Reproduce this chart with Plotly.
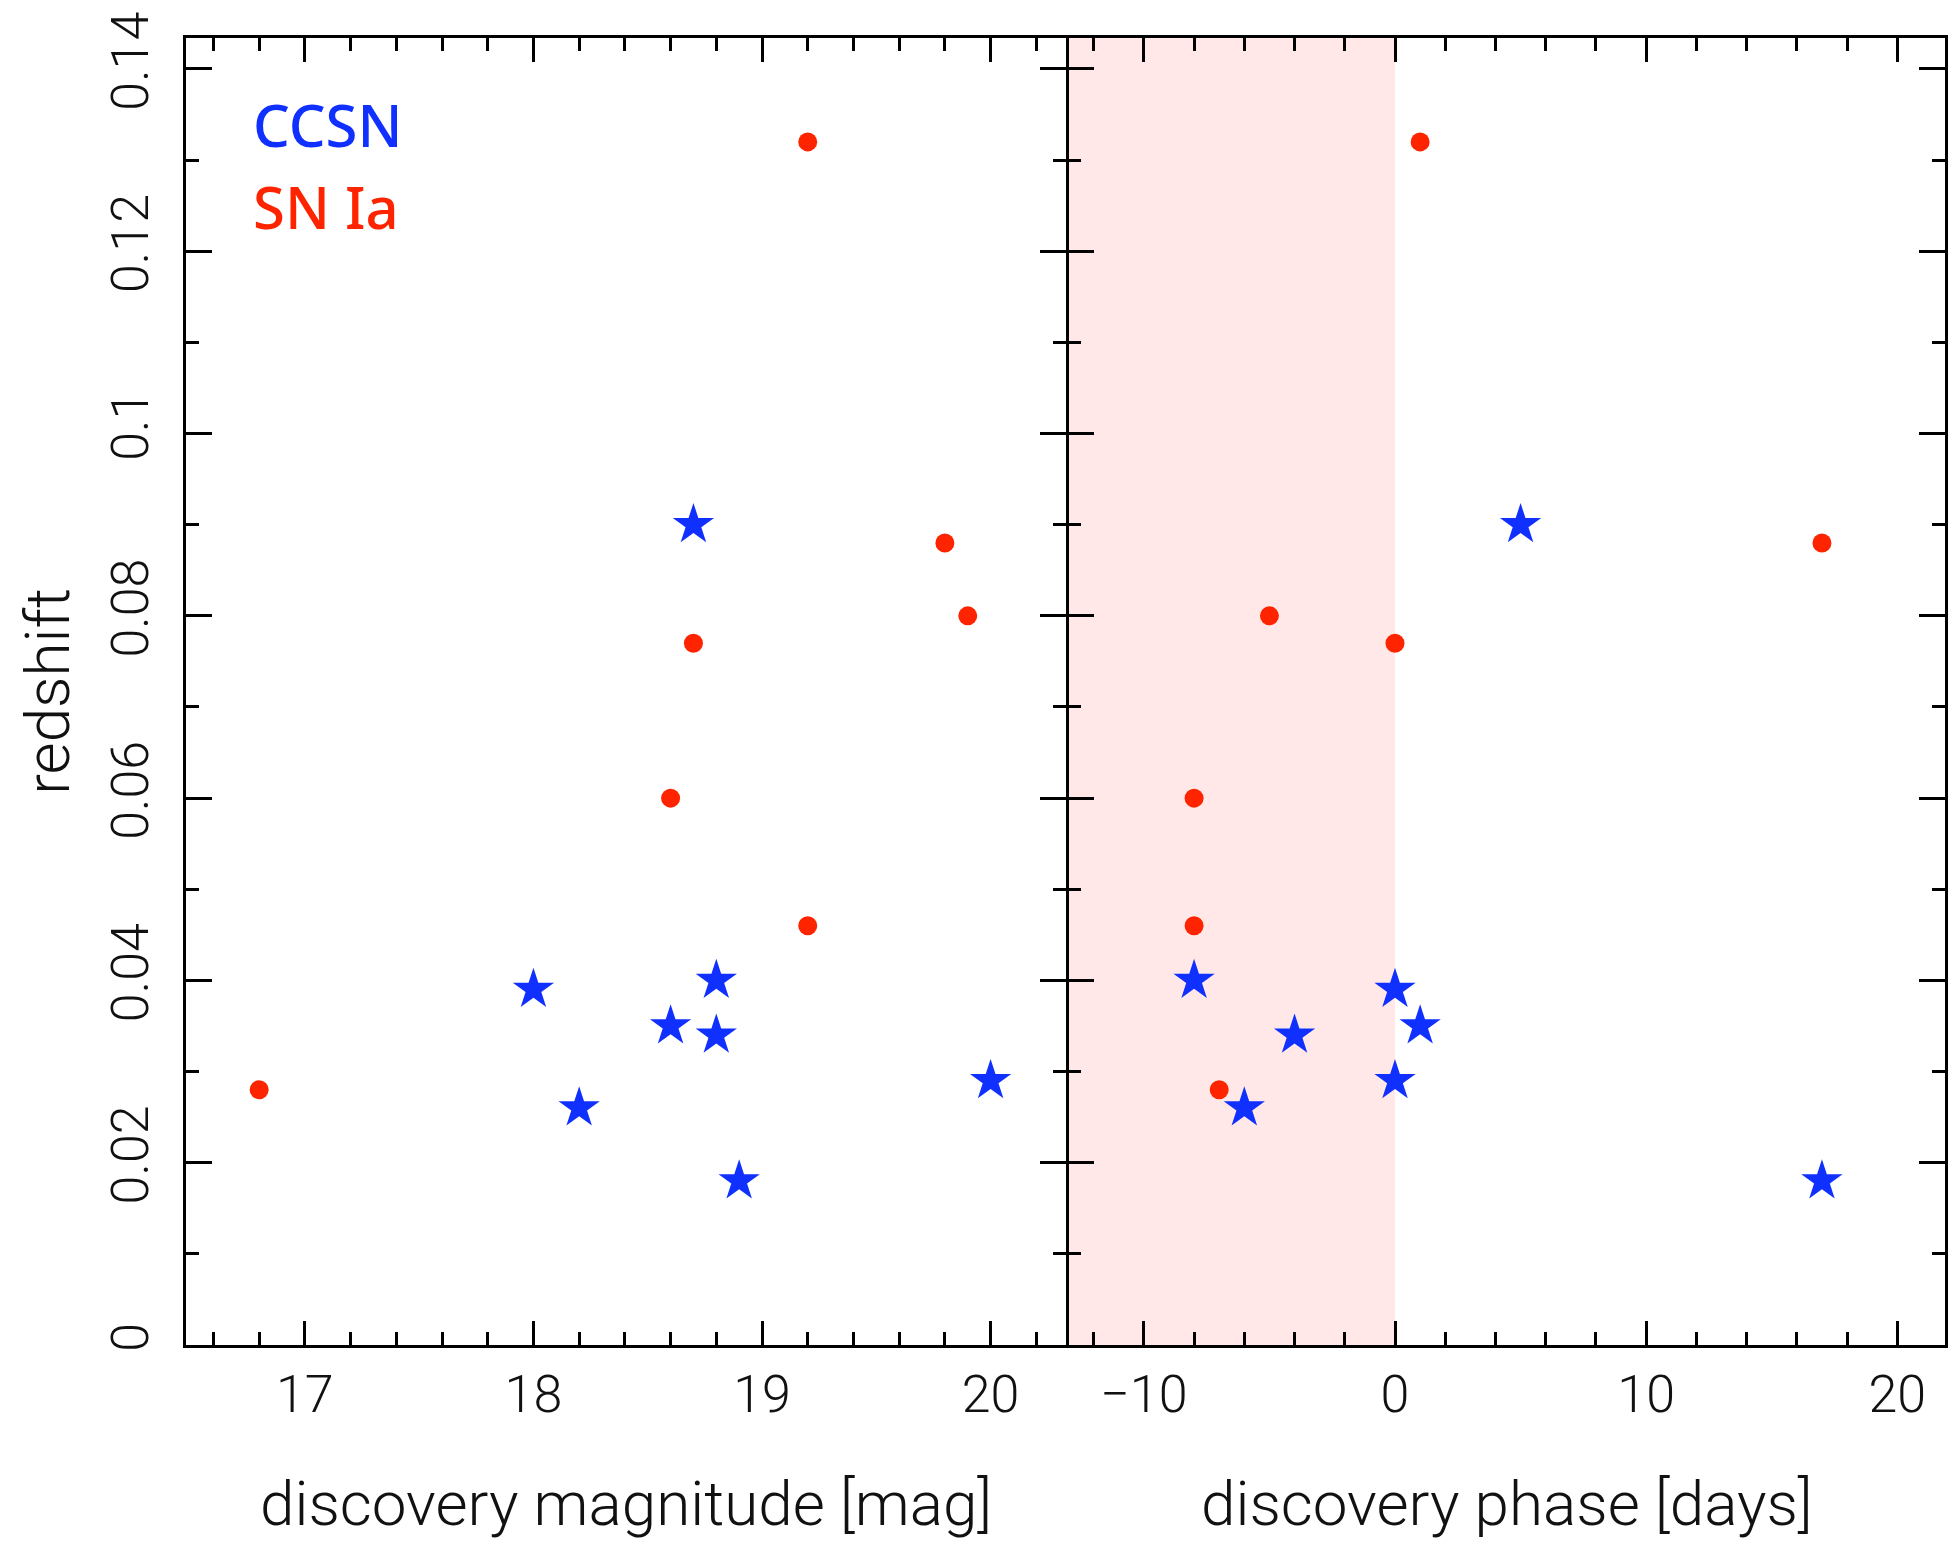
import plotly.graph_objects as go

# ---- data ----
ia_mag = [19.2, 19.8, 19.9, 18.7, 18.6, 19.2, 16.8]
ia_phase = [1, 17, -5, 0, -8, -8, -7]
ia_z = [0.132, 0.088, 0.080, 0.077, 0.060, 0.046, 0.028]

cc_mag = [18.7, 18.0, 18.8, 18.6, 18.8, 18.2, 20.0, 18.9]
cc_phase = [5, 0, -8, 1, -4, -6, 0, 17]
cc_z = [0.090, 0.039, 0.040, 0.035, 0.034, 0.026, 0.029, 0.018]

mag_range = [16.48, 20.33]
phase_range = [-13.0, 21.9]
z_range = [0.0, 0.1434]
shade_end = 0  # pre-maximum phase band

BLUE = "#1030ff"
RED = "#ff2400"
SHADE = "#ffe8e7"
TICKFONT = dict(family="Roboto, DejaVu Sans, sans-serif", size=52, color="#111", weight=300)
TITLEFONT = dict(family="Roboto, DejaVu Sans, sans-serif", size=62, color="#111", weight=300)
LEGFONT = dict(family="Noto Sans, sans-serif", size=58, weight=500)

fig = go.Figure()

fig.add_trace(go.Scatter(x=cc_mag, y=cc_z, mode="markers", xaxis="x", yaxis="y",
                         marker=dict(symbol="star", size=31, color=BLUE, line=dict(width=0)),
                         name="CCSN", showlegend=False))
fig.add_trace(go.Scatter(x=ia_mag, y=ia_z, mode="markers", xaxis="x", yaxis="y",
                         marker=dict(symbol="circle", size=19, color=RED, line=dict(width=0)),
                         name="SN Ia", showlegend=False))
fig.add_trace(go.Scatter(x=cc_phase, y=cc_z, mode="markers", xaxis="x2", yaxis="y2",
                         marker=dict(symbol="star", size=31, color=BLUE, line=dict(width=0)),
                         name="CCSN", showlegend=False))
fig.add_trace(go.Scatter(x=ia_phase, y=ia_z, mode="markers", xaxis="x2", yaxis="y2",
                         marker=dict(symbol="circle", size=19, color=RED, line=dict(width=0)),
                         name="SN Ia", showlegend=False))

fig.add_shape(type="rect", xref="x2", yref="y2 domain", x0=phase_range[0], x1=shade_end,
              y0=0, y1=1, fillcolor=SHADE, line=dict(width=0), layer="below")

LW = 2.5
plot_w = 1952 - 186 - 4
split = 0.5003
split2 = split + LW / plot_w
axis_common = dict(showline=True, linewidth=LW, linecolor="black", mirror="allticks",
                   ticks="inside", tickwidth=LW, tickcolor="black", showgrid=False,
                   zeroline=False, tickfont=TICKFONT)

fig.update_layout(
    width=1952, height=1541,
    margin=dict(l=186, r=4, t=38, b=196),
    paper_bgcolor="white", plot_bgcolor="rgba(0,0,0,0)",
    xaxis=dict(domain=[0, split], range=mag_range, anchor="y", tick0=0, dtick=1,
               ticklen=24, minor=dict(dtick=0.2, tick0=0, ticklen=13, tickwidth=LW,
                                      tickcolor="black", ticks="inside"),
               ticklabelstandoff=2, **axis_common),
    yaxis=dict(domain=[0, 1], range=z_range, anchor="x", tick0=0, dtick=0.02,
               ticklen=26, minor=dict(dtick=0.01, tick0=0, ticklen=13, tickwidth=LW,
                                      tickcolor="black", ticks="inside"),
               tickangle=-90, ticklabelstandoff=14, **axis_common),
    xaxis2=dict(domain=[split2, 1], range=phase_range, anchor="y2", tick0=0, dtick=10,
                ticklen=24, minor=dict(dtick=2, tick0=0, ticklen=13, tickwidth=LW,
                                       tickcolor="black", ticks="inside"),
                ticklabelstandoff=2, **axis_common),
    yaxis2=dict(domain=[0, 1], range=z_range, anchor="x2", matches="y", tick0=0, dtick=0.02,
                ticklen=26, minor=dict(dtick=0.01, tick0=0, ticklen=13, tickwidth=LW,
                                       tickcolor="black", ticks="inside"),
                showticklabels=False, **axis_common),
)

# axis titles
fig.add_annotation(text="discovery magnitude [mag]", xref="paper", yref="paper",
                   x=split / 2, y=-0.121, xanchor="center", yanchor="middle",
                   showarrow=False, font=TITLEFONT)
fig.add_annotation(text="discovery phase [days]", xref="paper", yref="paper",
                   x=(split2 + 1) / 2, y=-0.121, xanchor="center", yanchor="middle",
                   showarrow=False, font=TITLEFONT)
fig.add_annotation(text="redshift", xref="paper", yref="paper",
                   x=-0.0789, y=0.5, xanchor="center", yanchor="middle", textangle=-90,
                   showarrow=False, font=TITLEFONT)

# in-plot legend labels
fig.add_annotation(text="CCSN", xref="paper", yref="paper", x=0.0369, y=0.9338,
                   xanchor="left", yanchor="middle", showarrow=False,
                   font=dict(color=BLUE, **LEGFONT))
fig.add_annotation(text="SN Ia", xref="paper", yref="paper", x=0.0369, y=0.8707,
                   xanchor="left", yanchor="middle", showarrow=False,
                   font=dict(color=RED, **LEGFONT))

fig.write_html("out.html")
